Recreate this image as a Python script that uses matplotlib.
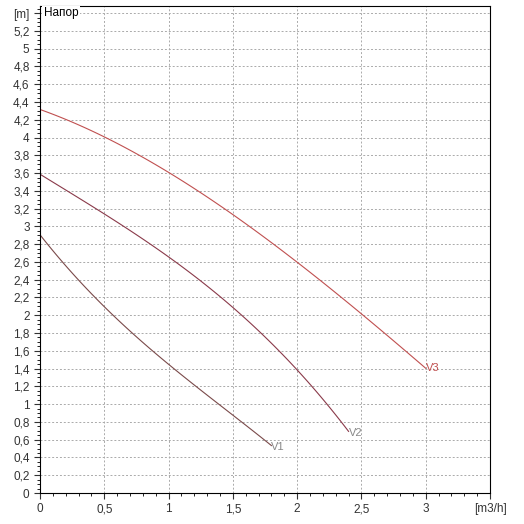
import numpy as np
import matplotlib.pyplot as plt
from matplotlib.ticker import MultipleLocator, FuncFormatter

plt.rcParams['font.family'] = ['Liberation Sans', 'DejaVu Sans']

q3 = [0, 0.5, 1.0, 1.5, 2.0, 2.5, 3.0]
h3 = [4.32, 4.0, 3.6, 3.15, 2.6, 2.0, 1.41]
q2 = [0, 0.5, 1.0, 1.5, 2.0, 2.4]
h2 = [3.58, 3.16, 2.65, 2.06, 1.42, 0.68]
q1 = [0, 0.5, 1.0, 1.5, 1.8]
h1 = [2.9, 2.12, 1.41, 0.91, 0.52]

fig = plt.figure(figsize=(5.24, 5.24), dpi=100)
ax = fig.add_axes([40/524, 31/524, 450/524, 487/524])

def smooth(q, h):
    x = np.linspace(q[0], q[-1], 100)
    return x, np.polyval(np.polyfit(q, h, 3), x)

for q, h, c, lab in [(q1, h1, "#7a4a4a", "V1"), (q2, h2, "#8a3a4a", "V2"), (q3, h3, "#c05050", "V3")]:
    x, y = smooth(q, h)
    ax.plot(x, y, color=c, lw=0.8)
    ax.text(q[-1], h[-1], lab, fontsize=8, color="#888888" if lab != "V3" else c, va="center")

ax.set_xlim(0, 3.5)
ax.set_ylim(0, 5.48)
ax.xaxis.set_major_locator(MultipleLocator(0.5))
ax.xaxis.set_minor_locator(MultipleLocator(0.1))
ax.yaxis.set_minor_locator(MultipleLocator(0.05))
fmt = lambda v, p: ("%g" % round(v, 2)).replace(".", ",")
ax.xaxis.set_major_formatter(FuncFormatter(lambda v, p: "[m3/h]" if abs(v - 3.5) < 1e-6 else fmt(v, p)))
ax.set_yticks(list(np.arange(0, 5.3, 0.2)) + [5.4])
ax.set_yticklabels([fmt(v, 0) for v in np.arange(0, 5.3, 0.2)] + ["[m]"])
ax.tick_params(labelsize=8.5, colors="#333333", length=4)
ax.tick_params(which="minor", length=2)
ax.grid(True, which="major", ls=(0, (2, 2)), color="#aaaaaa", lw=0.7)
ax.text(0.03, 5.4, "Напор", fontsize=8.5, va="center", bbox=dict(fc="white", ec="none", pad=1))
fig.savefig("out.png", dpi=100)
